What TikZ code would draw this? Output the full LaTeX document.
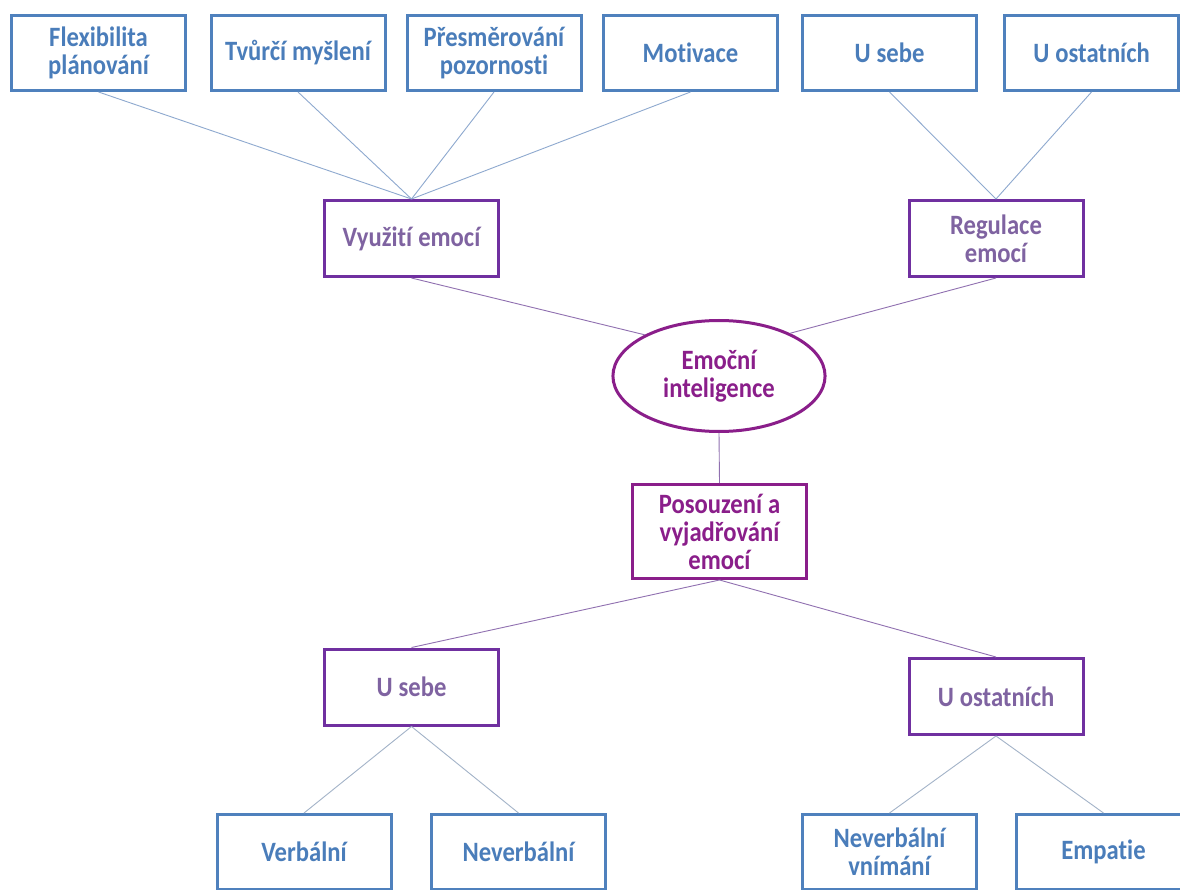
\documentclass[tikz,border=0pt]{standalone}
\usepackage{fontspec}
\setmainfont[Ligatures={NoCommon}, FakeStretch=0.88]{Carlito}
\usetikzlibrary{shapes.geometric}
\definecolor{bluebox}{HTML}{4F81BD}
\definecolor{bluetext}{HTML}{4A7DBA}
\definecolor{purpbox}{HTML}{7030A0}
\definecolor{purptext}{HTML}{7F63A1}
\definecolor{magbox}{HTML}{8A1E8A}
\definecolor{magtext}{HTML}{8A1E8A}
\definecolor{blueline}{HTML}{8EA9CF}
\definecolor{purpline}{HTML}{9070B0}
\definecolor{greyline}{HTML}{A3B3C8}
\newcommand\boxfont{\fontsize{28}{28}\selectfont\bfseries}
\newcommand\ws{\hspace{6pt}}
\tikzset{
  basebox/.style={line width=3pt, inner sep=0pt, align=center, fill=white, font=\boxfont},
  bbox/.style={basebox, draw=bluebox, text=bluetext, minimum width=174pt, minimum height=75pt, text width=172pt},
  pbox/.style={basebox, draw=purpbox, text=purptext, minimum width=174pt, minimum height=76pt, text width=172pt},
  mbox/.style={basebox, draw=magbox, text=magtext, minimum width=174pt, minimum height=94pt, text width=172pt},
  mell/.style={basebox, ellipse, draw=magbox, text=magtext, minimum width=205pt, minimum height=111pt, text width=150pt},
  bline/.style={draw=blueline, line width=0.9pt},
  pline/.style={draw=purpline, line width=0.9pt},
  gline/.style={draw=greyline, line width=0.9pt},
}
\begin{document}
\begin{tikzpicture}[x=1pt,y=-1pt]
\useasboundingbox (0,0) rectangle (1180,890);
\fill[white] (0,0) rectangle (1180,890);
\clip (0,0) rectangle (1180,890);
% top row
\node[bbox] (flex) at (98.5,53) {Flexibilita\\plánování};
\node[bbox] (tvur) at (298,53) {Tvůrčí\ws myšlení};
\node[bbox] (pres) at (494,53) {Přesměrování\\pozornosti};
\node[bbox] (moti) at (690.5,53) {Motivace};
\node[bbox] (usebe1) at (889.5,53) {U\ws sebe};
\node[bbox] (uost1) at (1091.5,53) {U\ws ostatních};
% second row
\node[pbox] (vyuz) at (411.5,238.5) {Využití\ws emocí};
\node[pbox] (regu) at (996,238.5) {Regulace\\emocí};
% centre
\node[mell] (ei) at (719,376) {Emoční\\inteligence};
\node[mbox] (poso) at (719.5,531.5) {Posouzení\ws a\\vyjadřování\\emocí};
% lower
\node[pbox] (usebe2) at (411.5,687) {U\ws sebe};
\node[pbox] (uost2) at (996,696.5) {U\ws ostatních};
% bottom row
\node[bbox] (verb) at (304,852) {Verbální};
\node[bbox] (never) at (518.5,852) {Neverbální};
\node[bbox] (nvn) at (889.5,852) {Neverbální\\vnímání};
\node[bbox] (empa) at (1103.5,852) {Empatie};
% connectors
\draw[bline] (flex.south) -- (vyuz.north);
\draw[bline] (tvur.south) -- (vyuz.north);
\draw[bline] (pres.south) -- (vyuz.north);
\draw[bline] (moti.south) -- (vyuz.north);
\draw[bline] (usebe1.south) -- (regu.north);
\draw[bline] (uost1.south) -- (regu.north);
\draw[pline] (vyuz.south) -- (ei.151);
\draw[pline] (regu.south) -- (ei.31);
\draw[pline] (ei.south) -- (poso.north);
\draw[pline] (poso.south) -- (usebe2.north);
\draw[pline] (poso.south) -- (uost2.north);
\draw[gline] (usebe2.south) -- (verb.north);
\draw[gline] (usebe2.south) -- (never.north);
\draw[gline] (uost2.south) -- (nvn.north);
\draw[gline] (uost2.south) -- (empa.north);
\end{tikzpicture}
\end{document}
